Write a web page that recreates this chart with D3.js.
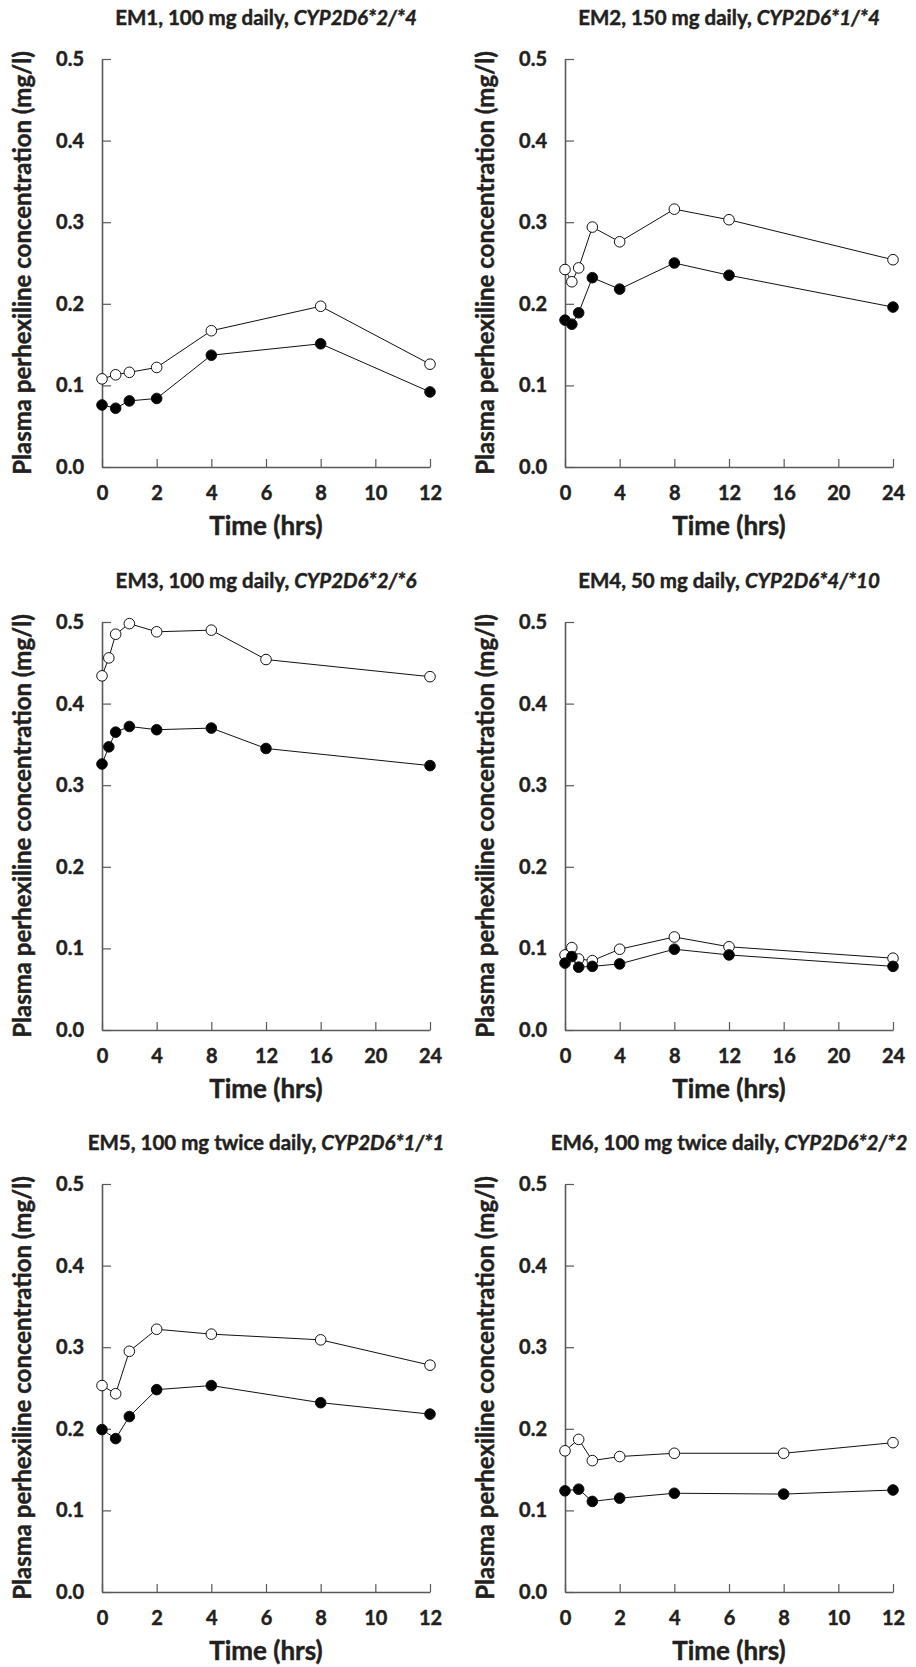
<!DOCTYPE html>
<html>
<head>
<meta charset="utf-8">
<script src="https://cdn.jsdelivr.net/npm/d3@7"></script>
<style>
  body { margin: 0; background: #fff; }
  text { font-family: Lato, "Open Sans", sans-serif; font-weight: bold; fill: #231f20;
         stroke: #231f20; stroke-width: 0.45; }
</style>
</head>
<body>
<svg width="916" height="1667"></svg>
<script>
// sampling times (hrs)
const times12 = [0, 0.5, 1, 2, 4, 8, 12];
const times24 = [0, 0.5, 1, 2, 4, 8, 12, 24];

// tick labels
const ticks12 = [0, 2, 4, 6, 8, 10, 12];
const ticks24 = [0, 4, 8, 12, 16, 20, 24];
const yTicks = [0, 0.1, 0.2, 0.3, 0.4, 0.5];

// open circles / filled circles, mg/l
const em1Open = [0.108, 0.113, 0.116, 0.122, 0.167, 0.197, 0.126];
const em1Filled = [0.076, 0.072, 0.081, 0.084, 0.137, 0.151, 0.092];
const em2Open = [0.242, 0.227, 0.244, 0.294, 0.276, 0.316, 0.303, 0.254];
const em2Filled = [0.180, 0.175, 0.189, 0.232, 0.218, 0.250, 0.235, 0.196];
const em3Open = [0.434, 0.456, 0.485, 0.498, 0.488, 0.490, 0.454, 0.433];
const em3Filled = [0.326, 0.347, 0.365, 0.372, 0.368, 0.370, 0.345, 0.324];
const em4Open = [0.092, 0.101, 0.087, 0.085, 0.099, 0.114, 0.102, 0.088];
const em4Filled = [0.082, 0.090, 0.077, 0.078, 0.081, 0.099, 0.092, 0.078];
const em5Open = [0.253, 0.243, 0.295, 0.322, 0.316, 0.309, 0.278];
const em5Filled = [0.199, 0.188, 0.215, 0.248, 0.253, 0.232, 0.218];
const em6Open = [0.173, 0.187, 0.161, 0.166, 0.170, 0.170, 0.183];
const em6Filled = [0.124, 0.126, 0.111, 0.115, 0.121, 0.120, 0.125];

const titles = [
  ['EM1, 100 mg daily, ', 'CYP2D6*2/*4'],
  ['EM2, 150 mg daily, ', 'CYP2D6*1/*4'],
  ['EM3, 100 mg daily, ', 'CYP2D6*2/*6'],
  ['EM4, 50 mg daily, ', 'CYP2D6*4/*10'],
  ['EM5, 100 mg twice daily, ', 'CYP2D6*1/*1'],
  ['EM6, 100 mg twice daily, ', 'CYP2D6*2/*2']
];

const panels = [
  { times: times12, ticks: ticks12, max: 12, open: em1Open, filled: em1Filled },
  { times: times24, ticks: ticks24, max: 24, open: em2Open, filled: em2Filled },
  { times: times24, ticks: ticks24, max: 24, open: em3Open, filled: em3Filled },
  { times: times24, ticks: ticks24, max: 24, open: em4Open, filled: em4Filled },
  { times: times12, ticks: ticks12, max: 12, open: em5Open, filled: em5Filled },
  { times: times12, ticks: ticks12, max: 12, open: em6Open, filled: em6Filled }
];

const colX = [102, 565];
const rowY = [59, 622, 1184];
const plotW = 328;
const plotH = 408;
const axisColor = '#58595b';

const svg = d3.select('svg');

panels.forEach((p, i) => {
  const left = colX[i % 2];
  const top = rowY[Math.floor(i / 2)];
  const g = svg.append('g').attr('transform', `translate(${left},${top})`);

  const x = d3.scaleLinear().domain([0, p.max]).range([0, plotW]);
  const y = d3.scaleLinear().domain([0, 0.5]).range([plotH, 0]);

  // axes, ticks pointing inward
  const xAxis = g.append('g').attr('transform', `translate(0,${plotH})`)
    .call(d3.axisBottom(x).tickValues(p.ticks).tickSizeInner(-8).tickSizeOuter(0).tickPadding(19));
  const yAxis = g.append('g')
    .call(d3.axisLeft(y).tickValues(yTicks).tickFormat(d3.format('.1f')).tickSizeInner(-9).tickSizeOuter(0).tickPadding(18));

  [xAxis, yAxis].forEach(a => {
    a.select('.domain').attr('stroke', axisColor).attr('stroke-width', 1.6);
    a.selectAll('.tick line').attr('stroke', axisColor).attr('stroke-width', 1.2);
    a.selectAll('.tick text').attr('font-size', 20).attr('fill', '#231f20')
      .attr('font-family', 'Lato, sans-serif').attr('font-weight', 'bold');
  });

  // title
  const t = g.append('text')
    .attr('x', plotW / 2)
    .attr('y', -34)
    .attr('text-anchor', 'middle')
    .attr('font-size', 20.5);
  t.append('tspan').text(titles[i][0]);
  t.append('tspan').attr('font-style', 'italic').text(titles[i][1]);

  // axis labels
  g.append('text')
    .attr('x', plotW / 2)
    .attr('y', plotH + 59)
    .attr('dy', '0.35em')
    .attr('text-anchor', 'middle')
    .attr('font-size', 26)
    .text('Time (hrs)');

  g.append('text')
    .attr('transform', `translate(-79,${plotH / 2}) rotate(-90)`)
    .attr('dy', '0.35em')
    .attr('text-anchor', 'middle')
    .attr('font-size', 24)
    .text('Plasma perhexiline concentration (mg/l)');

  // series
  const line = d3.line().x(d => x(d[0])).y(d => y(d[1]));
  const series = [
    { values: p.open, fill: '#fff' },
    { values: p.filled, fill: '#000' }
  ];
  series.forEach(s => {
    const pts = p.times.map((tm, k) => [tm, s.values[k]]);
    g.append('path')
      .datum(pts)
      .attr('d', line)
      .attr('fill', 'none')
      .attr('stroke', '#111')
      .attr('stroke-width', 1);
    g.selectAll(null)
      .data(pts)
      .enter()
      .append('circle')
      .attr('cx', d => x(d[0]))
      .attr('cy', d => y(d[1]))
      .attr('r', 5.3)
      .attr('fill', s.fill)
      .attr('stroke', '#111')
      .attr('stroke-width', 1);
  });
});
</script>
</body>
</html>
